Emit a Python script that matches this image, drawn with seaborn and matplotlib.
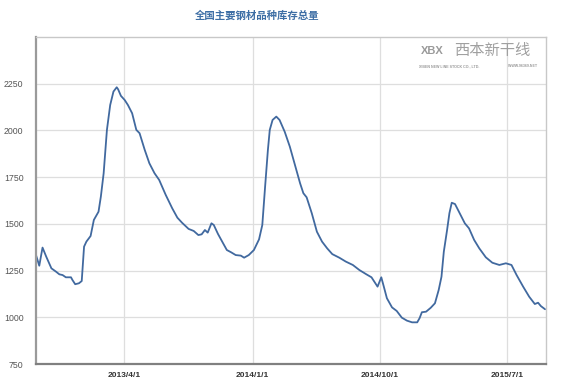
import pandas as pd
import matplotlib
matplotlib.use("Agg")
import matplotlib.pyplot as plt
import seaborn as sns

# weekly-ish readings of the inventory curve (10k tonnes)
dates = [
    "2012-09-24", "2012-10-01", "2012-10-08", "2012-10-16", "2012-10-27", "2012-11-06",
    "2012-11-13", "2012-11-20", "2012-11-27", "2012-12-08", "2012-12-11", "2012-12-17",
    "2012-12-25", "2012-12-31", "2013-01-05", "2013-01-10", "2013-01-19", "2013-01-26",
    "2013-02-05", "2013-02-10", "2013-02-16", "2013-02-23", "2013-03-02", "2013-03-09",
    "2013-03-16", "2013-03-19", "2013-03-25", "2013-04-02", "2013-04-09", "2013-04-18",
    "2013-04-27", "2013-05-04", "2013-05-15", "2013-05-25", "2013-06-05", "2013-06-15",
    "2013-06-29", "2013-07-13", "2013-07-24", "2013-08-03", "2013-08-17", "2013-08-28",
    "2013-09-07", "2013-09-14", "2013-09-21", "2013-09-27", "2013-10-05", "2013-10-10",
    "2013-10-19", "2013-10-30", "2013-11-07", "2013-11-16", "2013-11-26", "2013-12-07",
    "2013-12-14", "2013-12-24", "2014-01-04", "2014-01-15", "2014-01-22", "2014-01-28",
    "2014-02-03", "2014-02-07", "2014-02-13", "2014-02-21", "2014-02-28", "2014-03-11",
    "2014-03-22", "2014-04-02", "2014-04-13", "2014-04-20", "2014-04-27", "2014-05-08",
    "2014-05-19", "2014-05-30", "2014-06-10", "2014-06-21", "2014-07-06", "2014-07-20",
    "2014-08-04", "2014-08-18", "2014-09-02", "2014-09-13", "2014-09-26", "2014-10-04",
    "2014-10-09", "2014-10-16", "2014-10-27", "2014-11-06", "2014-11-17", "2014-11-28",
    "2014-12-09", "2014-12-20", "2014-12-25", "2014-12-30", "2015-01-08", "2015-01-18",
    "2015-01-27", "2015-02-04", "2015-02-10", "2015-02-15", "2015-02-22", "2015-02-27",
    "2015-03-04", "2015-03-11", "2015-03-21", "2015-04-01", "2015-04-10", "2015-04-21",
    "2015-05-02", "2015-05-16", "2015-05-30", "2015-06-14", "2015-06-28", "2015-07-10",
    "2015-07-21", "2015-08-04", "2015-08-17", "2015-08-29", "2015-09-05", "2015-09-11",
    "2015-09-20",
]
stock = [
    1333, 1276, 1373, 1324, 1262, 1244,
    1230, 1226, 1214, 1214, 1200, 1177,
    1182, 1194, 1378, 1405, 1435, 1521,
    1565, 1646, 1771, 2003, 2136, 2208,
    2231, 2220, 2185, 2163, 2136, 2092,
    2003, 1985, 1896, 1824, 1771, 1735,
    1655, 1583, 1533, 1506, 1473, 1462,
    1440, 1444, 1467, 1453, 1503, 1494,
    1446, 1396, 1360, 1348, 1333, 1330,
    1319, 1333, 1360, 1417, 1494, 1699,
    1896, 2003, 2056, 2074, 2056, 1993,
    1913, 1815, 1717, 1664, 1642, 1557,
    1458, 1405, 1369, 1338, 1319, 1298,
    1280, 1253, 1230, 1214, 1164, 1214,
    1168, 1102, 1053, 1034, 998, 982,
    973, 973, 995, 1027, 1030, 1051,
    1075, 1146, 1217, 1351, 1467, 1557,
    1613, 1606, 1557, 1503, 1476, 1414,
    1369, 1321, 1292, 1280, 1289, 1280,
    1226, 1164, 1110, 1071, 1078, 1060,
    1043,
]
x_ticks = ["2013-04-01", "2014-01-01", "2014-10-01", "2015-07-01"]
x_labels = ["2013/4/1", "2014/1/1", "2014/10/1", "2015/7/1"]
y_ticks = [750, 1000, 1250, 1500, 1750, 2000, 2250]

title = "全国主要钢材品种库存总量"

df = pd.DataFrame({"date": pd.to_datetime(dates), "stock": stock})

sns.set_style("white")
plt.rcParams["font.family"] = ["Liberation Sans", "Noto Sans CJK SC", "DejaVu Sans"]

fig = plt.figure(figsize=(5.62, 3.88), dpi=100)
ax = fig.add_axes([36 / 562, 1 - 364 / 388, 510 / 562, 327 / 388])

sns.lineplot(data=df, x="date", y="stock", ax=ax, color="#41699f", linewidth=1.3)

ax.set_xlim(pd.Timestamp("2012-09-24"), pd.Timestamp("2015-09-22"))
ax.set_ylim(750, 2500)
ax.set_yticks(y_ticks)
ax.set_yticklabels([str(v) for v in y_ticks], fontsize=6.3, color="#555555")
ax.set_xticks(pd.to_datetime(x_ticks))
ax.set_xticklabels(x_labels, fontsize=6, color="#333333", fontweight="bold")
ax.tick_params(axis="y", length=0, pad=9)
ax.tick_params(axis="x", length=0, pad=6)
ax.set_xlabel("")
ax.set_ylabel("")

ax.grid(True, color="#dedede", linewidth=0.9)
ax.set_axisbelow(True)

ax.spines["left"].set_color("#9a9a9a")
ax.spines["left"].set_linewidth(1.6)
ax.spines["bottom"].set_color("#808080")
ax.spines["bottom"].set_linewidth(1.6)
for side in ["top", "right"]:
    ax.spines[side].set_color("#c8c8c8")
    ax.spines[side].set_linewidth(1.0)

fig.text(257 / 562, 1 - 16 / 388, title, ha="center", va="center", fontsize=7.5,
         fontweight="bold", color="#3d6ea5", family=["Noto Sans CJK SC", "DejaVu Sans"])

# watermark logo
fig.text(454 / 562, 1 - 51 / 388, "西本新干线", ha="left", va="center", fontsize=11,
         color="#a0a0a0", style="italic", family=["Noto Sans CJK SC", "DejaVu Sans"])
fig.text(421 / 562, 1 - 51 / 388, "XBX", ha="left", va="center", fontsize=8,
         color="#9a9a9a", fontweight="bold")
fig.text(419 / 562, 1 - 66 / 388, "XIBEN NEW LINE STOCK CO., LTD.", ha="left", va="center",
         fontsize=2.6, color="#9a9a9a", fontweight="bold")
fig.text(508 / 562, 1 - 66 / 388, "WWW.96369.NET", ha="left", va="center",
         fontsize=2.6, color="#9a9a9a", fontweight="bold")

fig.savefig("out.png", dpi=100, facecolor="white")
